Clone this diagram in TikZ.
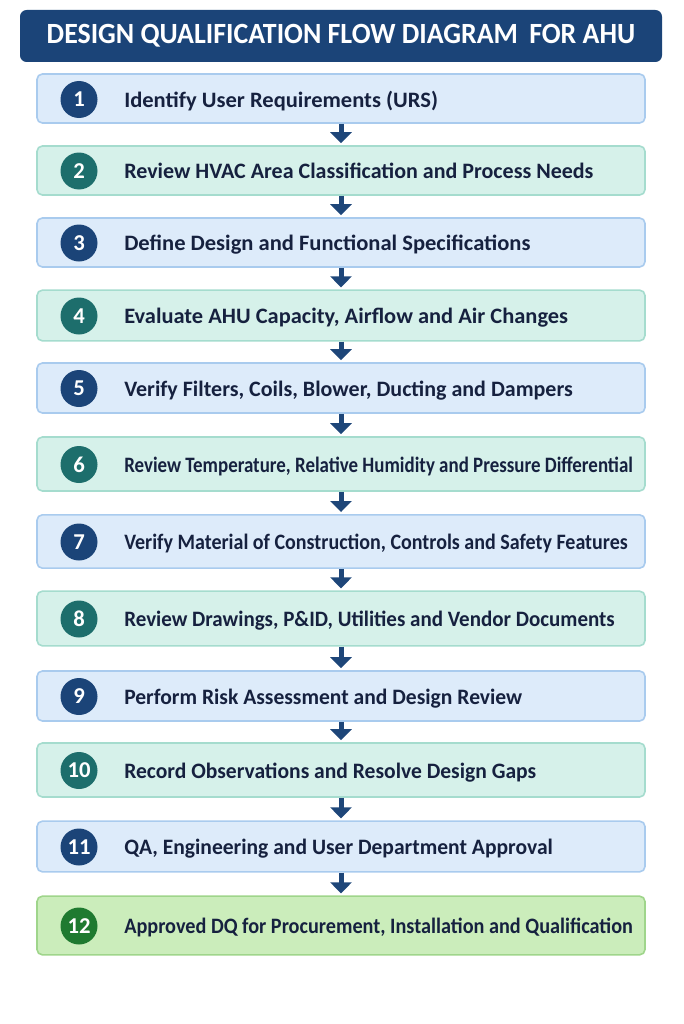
\documentclass[tikz,border=0pt]{standalone}
\usepackage{fontspec}
\setmainfont{Carlito}
\usetikzlibrary{arrows.meta}

\definecolor{navy}{HTML}{1B4478}
\definecolor{inkblue}{HTML}{16213F}
\definecolor{bluefill}{HTML}{DDEBFA}
\definecolor{blueline}{HTML}{A9CBEE}
\definecolor{tealfill}{HTML}{D6F1EA}
\definecolor{tealline}{HTML}{A5DCCE}
\definecolor{tealdot}{HTML}{1D6E6C}
\definecolor{greenfill}{HTML}{CBEDBB}
\definecolor{greenline}{HTML}{9FD58B}
\definecolor{greendot}{HTML}{1F7A30}
\definecolor{arrowblue}{HTML}{1E4679}

\begin{document}
\begin{tikzpicture}[x=0.75pt, y=-0.75pt,
    bluebox/.style={draw=blueline, fill=bluefill, line width=1.2pt, rounded corners=4pt, minimum width=456pt},
    tealbox/.style={draw=tealline, fill=tealfill, line width=1.2pt, rounded corners=4pt, minimum width=456pt},
    greenbox/.style={draw=greenline, fill=greenfill, line width=1.2pt, rounded corners=4pt, minimum width=456pt},
    num/.style={circle, minimum size=27.75pt, inner sep=0pt, text=white, font=\bfseries\fontsize{17}{17}\selectfont},
    steptext/.style={anchor=base west, inner sep=0pt, text=inkblue, font=\bfseries\fontsize{16.5}{16.5}\selectfont},
    squeeze/.style={font=\bfseries\fontsize{16.5}{16.5}\selectfont\addfontfeature{FakeStretch=#1}},
    flow/.style={-{Triangle[width=15.75pt, length=8.25pt]}, line width=3.75pt, draw=arrowblue, shorten >=1.5pt}]
    \useasboundingbox (0, 0) rectangle (683, 1024);

    % title bar
    \node[fill=navy, rounded corners=5pt, minimum width=481.5pt, minimum height=39pt, text=white, font=\bfseries\fontsize{22}{22}\selectfont\addfontfeature{FakeStretch=0.95}] (title) at (341, 36) {DESIGN QUALIFICATION FLOW DIAGRAM\, FOR AHU};

    % step boxes
    \node[bluebox, minimum height=36.75pt] (s1) at (341, 98.5) {};
    \node[tealbox, minimum height=36.75pt] (s2) at (341, 170.5) {};
    \node[bluebox, minimum height=36.75pt] (s3) at (341, 242.5) {};
    \node[tealbox, minimum height=38pt] (s4) at (341, 315.5) {};
    \node[bluebox, minimum height=37.5pt] (s5) at (341, 388) {};
    \node[tealbox, minimum height=40.5pt] (s6) at (341, 464) {};
    \node[bluebox, minimum height=40pt] (s7) at (341, 541.5) {};
    \node[tealbox, minimum height=41pt] (s8) at (341, 618.5) {};
    \node[bluebox, minimum height=37.5pt] (s9) at (341, 696) {};
    \node[tealbox, minimum height=40.5pt] (s10) at (341, 770) {};
    \node[bluebox, minimum height=38pt] (s11) at (341, 846.5) {};
    \node[greenbox, minimum height=44pt] (s12) at (341, 925.5) {};

    % numbers
    \node[num, fill=navy] (n1) at (79, 99.5) {1};
    \node[num, fill=tealdot] (n2) at (79, 171) {2};
    \node[num, fill=navy] (n3) at (79, 243) {3};
    \node[num, fill=tealdot] (n4) at (79, 316) {4};
    \node[num, fill=navy] (n5) at (79, 388.5) {5};
    \node[num, fill=tealdot] (n6) at (79, 464.5) {6};
    \node[num, fill=navy] (n7) at (79, 542) {7};
    \node[num, fill=tealdot] (n8) at (79, 619) {8};
    \node[num, fill=navy] (n9) at (79, 696.5) {9};
    \node[num, fill=tealdot] (n10) at (79, 770.5) {10};
    \node[num, fill=navy] (n11) at (79, 847) {11};
    \node[num, fill=greendot] (n12) at (79, 926) {12};

    % texts
    \node[steptext, squeeze=1.025] (t1) at (124, 107.5) {Identify User Requirements (URS)};
    \node[steptext] (t2) at (124, 178.5) {Review HVAC Area Classification and Process Needs};
    \node[steptext, squeeze=1.025] (t3) at (124, 250.5) {Define Design and Functional Specifications};
    \node[steptext, squeeze=1.02] (t4) at (124, 323.5) {Evaluate AHU Capacity, Airflow and Air Changes};
    \node[steptext] (t5) at (124, 396) {Verify Filters, Coils, Blower, Ducting and Dampers};
    \node[steptext, squeeze=0.86] (t6) at (124, 472) {Review Temperature, Relative Humidity and Pressure Differential};
    \node[steptext, squeeze=0.91] (t7) at (124, 549.5) {Verify Material of Construction, Controls and Safety Features};
    \node[steptext, squeeze=0.955] (t8) at (124, 626.5) {Review Drawings, P\&ID, Utilities and Vendor Documents};
    \node[steptext, squeeze=0.98] (t9) at (124, 704) {Perform Risk Assessment and Design Review};
    \node[steptext, squeeze=0.98] (t10) at (124, 778) {Record Observations and Resolve Design Gaps};
    \node[steptext, squeeze=0.98] (t11) at (124, 854.5) {QA, Engineering and User Department Approval};
    \node[steptext, squeeze=0.92] (t12) at (124, 933.5) {Approved DQ for Procurement, Installation and Qualification};

    % arrows
    \draw[flow] (s1.south) -- (s2.north);
    \draw[flow] (s2.south) -- (s3.north);
    \draw[flow] (s3.south) -- (s4.north);
    \draw[flow] (s4.south) -- (s5.north);
    \draw[flow] (s5.south) -- (s6.north);
    \draw[flow] (s6.south) -- (s7.north);
    \draw[flow] (s7.south) -- (s8.north);
    \draw[flow] (s8.south) -- (s9.north);
    \draw[flow] (s9.south) -- (s10.north);
    \draw[flow] (s10.south) -- (s11.north);
    \draw[flow] (s11.south) -- (s12.north);

\end{tikzpicture}
\end{document}
